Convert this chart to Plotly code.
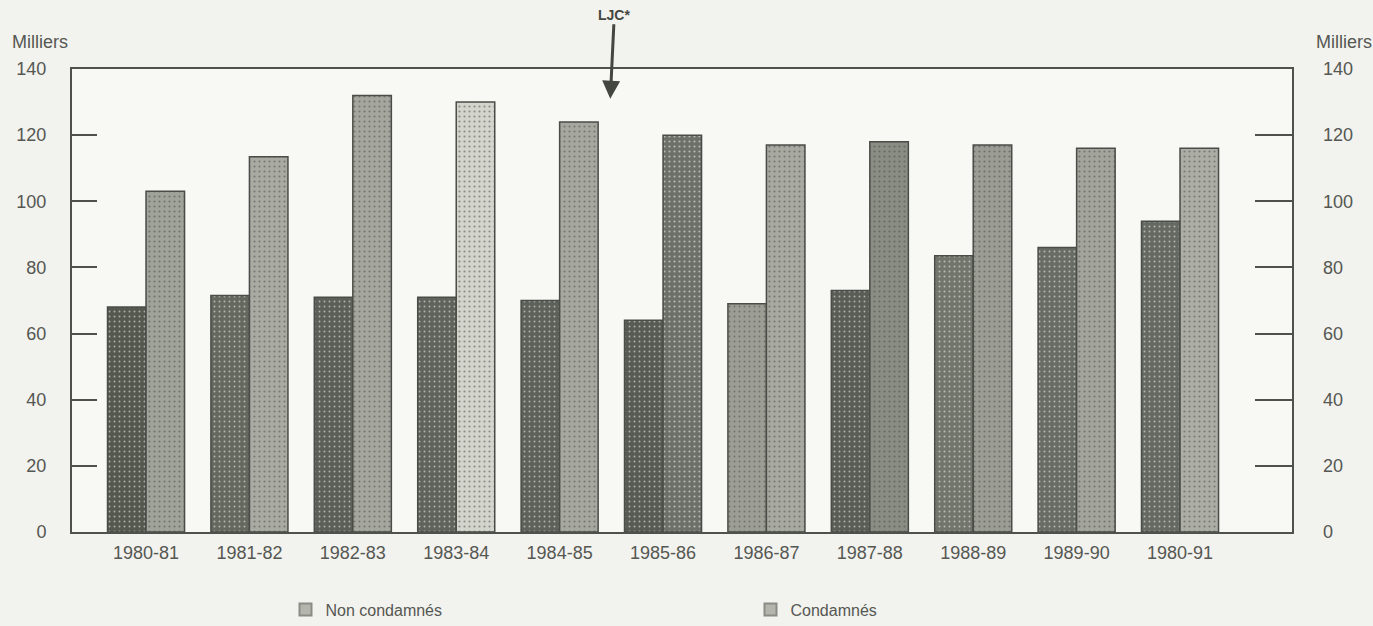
import plotly.graph_objects as go

categories = ["1980-81", "1981-82", "1982-83", "1983-84", "1984-85", "1985-86",
              "1986-87", "1987-88", "1988-89", "1989-90", "1980-91"]
non_condamnes = [68, 71.5, 71, 71, 70, 64, 69, 73, 83.5, 86, 94]
condamnes = [103, 113.5, 132, 130, 124, 120, 117, 118, 117, 116, 116]
y_ticks = [0, 20, 40, 60, 80, 100, 120, 140]

dark_colors = ["#55584f", "#65685f", "#5c5f57", "#60635b", "#5e6159", "#585b53",
               "#9c9e95", "#5a5d55", "#72756c", "#696c64", "#666961"]
light_colors = ["#a0a39a", "#a9aba2", "#a5a79e", "#d3d4cc", "#a6a89f", "#6d7068",
                "#a8aaa1", "#8a8d84", "#9b9d94", "#a3a59c", "#acaea5"]

x_idx = list(range(len(categories)))
TXT = "#555752"
FONT = "Liberation Sans, Arial, sans-serif"

fig = go.Figure()
fig.add_trace(go.Bar(
    x=x_idx, y=non_condamnes, name="Non condamnés", showlegend=False,
    marker=dict(color=dark_colors, line=dict(color="#4a4c47", width=1.5),
                pattern=dict(shape=".", fgcolor="#c8cac0", size=5, solidity=0.12)),
))
fig.add_trace(go.Bar(
    x=x_idx, y=condamnes, name="Condamnés", showlegend=False,
    marker=dict(color=light_colors, line=dict(color="#4a4c47", width=1.5),
                pattern=dict(shape=".", fgcolor="#e6e7e0", size=5, solidity=0.15)),
))
# legend entries (scatter so they don't take bar slots)
for nm in ["Non condamnés", "Condamnés"]:
    fig.add_trace(go.Scatter(
        x=[None], y=[None], name=nm, mode="markers", showlegend=True,
        marker=dict(symbol="square", size=15, color="#b4b5ad",
                    line=dict(color="#8a8c85", width=1)),
    ))
# invisible trace for right axis
fig.add_trace(go.Scatter(x=[None], y=[None], yaxis="y2", showlegend=False))

fig.update_layout(
    width=1373, height=626,
    margin=dict(l=72, r=81, t=69, b=94, autoexpand=False),
    paper_bgcolor="#f2f2ee", plot_bgcolor="#f8f8f5",
    barmode="group", bargap=0.255, bargroupgap=0,
    font=dict(family=FONT, size=18, color=TXT),
    showlegend=True,
    legend=dict(orientation="h", x=0.175, y=-0.131, xanchor="left", yanchor="top",
                entrywidth=420, entrywidthmode="pixels", itemsizing="constant",
                font=dict(size=16, color=TXT), bgcolor="rgba(0,0,0,0)"),
    xaxis=dict(
        range=[-0.716, 11.083], tickmode="array", tickvals=x_idx, ticktext=categories,
        ticks="outside", ticklen=3, tickcolor="rgba(0,0,0,0)",
        showline=True, linecolor="#4f514c", linewidth=2, mirror=True,
        showgrid=False, zeroline=False, tickfont=dict(size=18, color=TXT),
    ),
    yaxis=dict(
        range=[0, 140], tickmode="array", tickvals=y_ticks,
        ticks="inside", ticklen=25, tickwidth=2, tickcolor="#4f514c",
        showline=True, linecolor="#4f514c", linewidth=2, mirror=True,
        showgrid=False, zeroline=False, ticklabelstandoff=20,
        tickfont=dict(size=18, color=TXT),
    ),
    yaxis2=dict(
        range=[0, 140], tickmode="array", tickvals=y_ticks, overlaying="y", side="right",
        ticks="inside", ticklen=37, tickwidth=2, tickcolor="#4f514c",
        showline=False, showgrid=False, zeroline=False, ticklabelstandoff=30,
        tickfont=dict(size=18, color=TXT),
    ),
    annotations=[
        dict(text="Milliers", xref="paper", yref="paper", x=-62 / 1220, y=1.058,
             xanchor="left", yanchor="middle", showarrow=False, font=dict(size=18, color=TXT)),
        dict(text="Milliers", xref="paper", yref="paper", x=1.0 + 22 / 1220, y=1.058,
             xanchor="left", yanchor="middle", showarrow=False, font=dict(size=18, color=TXT)),
        dict(text="<b>LJC*</b>", x=4.49, y=131, xref="x", yref="y",
             showarrow=True, ax=4, ay=-84, arrowhead=2, arrowsize=1.2, arrowwidth=3,
             arrowcolor="#444640", font=dict(size=14, color="#444640")),
    ],
)

fig.write_html("out.html", config={"displayModeBar": False},
               post_script="document.body.style.margin='0';")
